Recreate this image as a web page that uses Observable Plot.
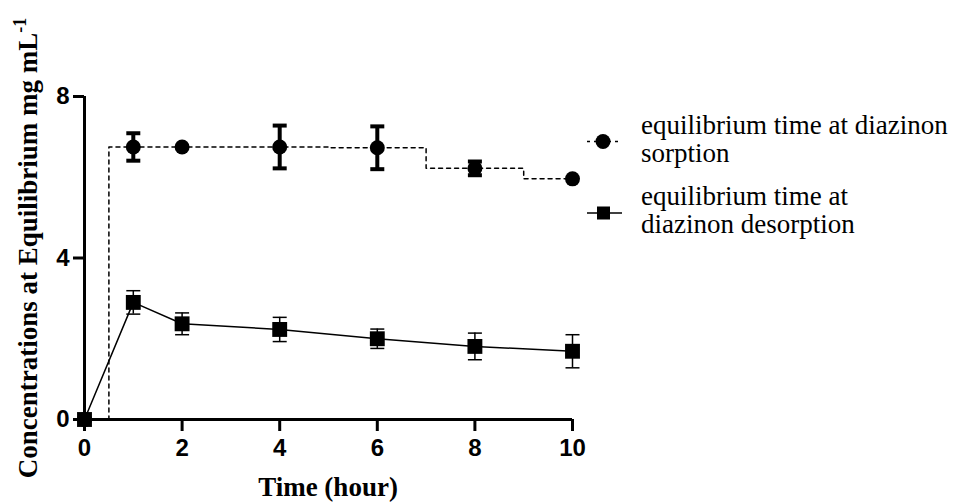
<!DOCTYPE html>
<html><head><meta charset="utf-8">
<script src="https://cdn.jsdelivr.net/npm/d3@7"></script>
<script src="https://cdn.jsdelivr.net/npm/@observablehq/plot@0.6"></script>
<style>body{margin:0;background:#fff} #chart{width:955px;height:503px}</style>
</head><body><div id="chart"></div>
<script>
// Data
const times = [0, 1, 2, 4, 6, 8, 10];
const sorption = [0, 6.75, 6.75, 6.75, 6.73, 6.22, 5.96];
const sorptionErr = [0, 0.34, 0, 0.53, 0.53, 0.17, 0];
const desorption = [0, 2.90, 2.37, 2.23, 2.00, 1.81, 1.69];
const desorptionErr = [0, 0.29, 0.27, 0.30, 0.24, 0.33, 0.41];
const xTicks = [0, 2, 4, 6, 8, 10];
const yTicks = [0, 4, 8];
const seriesNames = ["equilibrium time at diazinon sorption", "equilibrium time at diazinon desorption"];

const rows = times.map((t, i) => ({t, s: sorption[i], se: sorptionErr[i], d: desorption[i], de: desorptionErr[i]}));
const sErr = rows.filter(r => r.se > 0);
const dErr = rows.filter(r => r.de > 0);
const cap = w => ({draw(ctx) { ctx.moveTo(-w, 0); ctx.lineTo(w, 0); }});

const plot = Plot.plot({
  width: 955, height: 503,
  marginLeft: 84, marginRight: 383, marginTop: 96, marginBottom: 84,
  style: {fontFamily: "Liberation Sans", fontWeight: "bold", fontSize: "24px", background: "white", color: "black", overflow: "visible"},
  x: {domain: [0, 10]},
  y: {domain: [0, 8]},
  marks: [
    Plot.axisX({ticks: xTicks, tickSize: 12, tickPadding: 7, strokeWidth: 3, fontSize: 24, fontWeight: "bold", label: null}),
    Plot.axisY({ticks: yTicks, tickSize: 11, tickPadding: 4, strokeWidth: 3, fontSize: 24, fontWeight: "bold", label: null}),
    Plot.ruleY([0], {strokeWidth: 3}),
    Plot.ruleX([0], {strokeWidth: 3}),
    Plot.line(rows, {x: "t", y: "s", curve: "step", stroke: "black", strokeWidth: 1.5, strokeDasharray: "4,4"}),
    Plot.line(rows, {x: "t", y: "d", stroke: "black", strokeWidth: 1.5}),
    Plot.ruleX(sErr, {x: "t", y1: r => r.s - r.se, y2: r => r.s + r.se, stroke: "black", strokeWidth: 4}),
    Plot.dot(sErr, {x: "t", y: r => r.s + r.se, symbol: cap(7), fill: "none", stroke: "black", strokeWidth: 4}),
    Plot.dot(sErr, {x: "t", y: r => r.s - r.se, symbol: cap(7), fill: "none", stroke: "black", strokeWidth: 4}),
    Plot.ruleX(dErr, {x: "t", y1: r => r.d - r.de, y2: r => r.d + r.de, stroke: "black", strokeWidth: 1.5}),
    Plot.dot(dErr, {x: "t", y: r => r.d + r.de, symbol: cap(7), fill: "none", stroke: "black", strokeWidth: 1.5}),
    Plot.dot(dErr, {x: "t", y: r => r.d - r.de, symbol: cap(7), fill: "none", stroke: "black", strokeWidth: 1.5}),
    Plot.dot(rows, {x: "t", y: "s", symbol: "circle", r: 7.5, fill: "black", stroke: "none"}),
    Plot.dot(rows, {x: "t", y: "d", symbol: "square", r: 8.4, fill: "black", stroke: "none"})
  ]
});
document.getElementById("chart").appendChild(plot);

const svg = d3.select(plot);
const serif = sel => sel.attr("font-family", "Liberation Serif").style("font-family", "'Liberation Serif', 'Times New Roman', serif");
// Axis titles
svg.append("text")
  .attr("x", 328).attr("y", 496).attr("text-anchor", "middle")
  .call(serif).attr("font-weight", "bold").attr("font-size", 27)
  .text("Time (hour)");
const yt = svg.append("text")
  .attr("transform", "translate(37,248) rotate(-90)").attr("text-anchor", "middle")
  .call(serif).attr("font-weight", "bold").attr("font-size", 27);
yt.append("tspan").text("Concentrations at Equilibrium mg mL");
yt.append("tspan").attr("font-size", 18).attr("dy", -11).text("-1");

// Legend
const lg = svg.append("g");
const items = [
  {y: 141.5, base: 134, lines: ["equilibrium time at diazinon", "sorption"], dash: "3,4", sym: "circle"},
  {y: 213, base: 205, lines: ["equilibrium time at", "diazinon desorption"], dash: null, sym: "square"}
];
items.forEach(it => {
  const l = lg.append("line").attr("x1", 587).attr("x2", 622).attr("y1", it.y).attr("y2", it.y)
    .attr("stroke", "black").attr("stroke-width", 1.5);
  if (it.dash) l.attr("stroke-dasharray", it.dash);
  if (it.sym === "circle") lg.append("circle").attr("cx", 603).attr("cy", it.y).attr("r", 7.5).attr("fill", "black");
  else lg.append("rect").attr("x", 597).attr("y", it.y - 6.5).attr("width", 13).attr("height", 13).attr("fill", "black");
  it.lines.forEach((t, k) => {
    lg.append("text").attr("x", 641).attr("y", it.base + k * 28)
      .call(serif).attr("font-weight", "normal").style("font-weight", "normal")
      .attr("font-size", 27).style("font-size", "27px").attr("text-anchor", "start").attr("fill", "black")
      .text(t);
  });
});
</script>
</body></html>
